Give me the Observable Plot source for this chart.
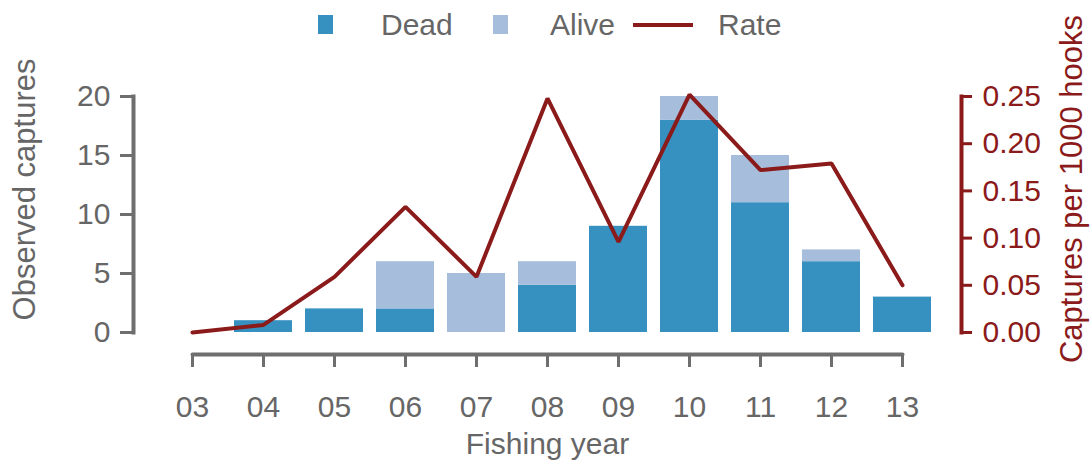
<!DOCTYPE html>
<html><head><meta charset="utf-8">
<script src="https://cdn.jsdelivr.net/npm/d3@7"></script>
<script src="https://cdn.jsdelivr.net/npm/@observablehq/plot@0.6"></script>
<style>
body{margin:0;background:#fff;font-family:"Liberation Sans",Arial,sans-serif;}
#wrap{position:relative;width:1092px;height:462px;}
#legend{position:absolute;left:0;top:0;height:50px;width:1092px;color:#666;font-size:30px;z-index:2;}
#legend .sw{position:absolute;top:15px;width:15px;height:19px;}
#legend .ln{position:absolute;top:23px;width:60px;height:4px;}
#legend .tx{position:absolute;top:0;line-height:50px;}
#chart{position:absolute;left:0;top:0;}
</style></head><body>
<div id="wrap">
<div id="chart"></div>
<div id="legend"></div>
</div>
<script>
// ---- data ----
const years = ["03","04","05","06","07","08","09","10","11","12","13"];
const dead  = [0, 1, 2, 2, 0, 4, 9, 18, 11, 6, 3];
const alive = [0, 0, 0, 4, 5, 2, 0, 2, 4, 1, 0];
const rate  = [0, 0.008, 0.059, 0.133, 0.059, 0.248, 0.096, 0.252, 0.172, 0.179, 0.05];
const statuses = ["Dead", "Alive"];
const statusColors = ["#3690c0", "#a6bddb"];
const rateLabel = "Rate";
const rateColor = "#8b1a1a";
const countTicks = [0, 5, 10, 15, 20];
const rateTicks = [0, 0.05, 0.10, 0.15, 0.20, 0.25];
const xLabel = "Fishing year";
const yLeftLabel = "Observed captures";
const yRightLabel = "Captures per 1000 hooks";

// ---- derived tables ----
const K = countTicks[countTicks.length - 1] / rateTicks[rateTicks.length - 1];
const bars = years.flatMap((y, i) => [
  {year: y, status: statuses[0], n: dead[i]},
  {year: y, status: statuses[1], n: alive[i]}
]);
const rateRows = years.map((y, i) => ({year: y, rate: rate[i]}));

const gray = "#666666";
const axisGray = "#6e6e6e";
const FS = 30;
const TFS = 31;

// ---- legend ----
const lg = document.getElementById("legend");
lg.innerHTML =
  `<div class="sw" style="left:318px;background:${statusColors[0]}"></div>` +
  `<div class="tx" style="left:381px">${statuses[0]}</div>` +
  `<div class="sw" style="left:493px;background:${statusColors[1]}"></div>` +
  `<div class="tx" style="left:550px">${statuses[1]}</div>` +
  `<div class="ln" style="left:633px;background:${rateColor}"></div>` +
  `<div class="tx" style="left:718px">${rateLabel}</div>`;

// ---- chart ----
const chart = Plot.plot({
  width: 1092,
  height: 462,
  marginLeft: 155.4,
  marginRight: 153.4,
  marginTop: 96,
  marginBottom: 130,
  style: {fontFamily: "'Liberation Sans', Arial, sans-serif", fontSize: FS + "px", background: "white"},
  x: {type: "band", domain: years, paddingInner: 0.18, paddingOuter: 0.09, axis: null},
  y: {domain: [countTicks[0], countTicks[countTicks.length - 1]], axis: null},
  color: {domain: statuses, range: statusColors},
  marks: [
    Plot.barY(bars, {x: "year", y: "n", fill: "status"}),
    Plot.line(rateRows, {x: "year", y: d => d.rate * K, stroke: rateColor, strokeWidth: 4, strokeLinejoin: "miter"}),
    // left axis
    Plot.frame({anchor: "left", dx: -22.4, stroke: axisGray, strokeWidth: 4}),
    Plot.axisY(countTicks, {anchor: "left", dx: -22.4, tickSize: 13, tickPadding: 10, fontSize: FS,
      stroke: axisGray, fill: gray, strokeWidth: 3, label: null}),
    // right axis
    Plot.frame({anchor: "right", dx: 22.4, stroke: rateColor, strokeWidth: 4}),
    Plot.axisY(rateTicks.map(r => r * K), {anchor: "right", dx: 22.4, tickSize: 10, tickPadding: 11, fontSize: FS,
      tickFormat: d => (d / K).toFixed(2), stroke: rateColor, fill: rateColor, strokeWidth: 3, label: null}),
    // bottom axis
    Plot.line([years[0], years[years.length - 1]], {x: d => d, y: () => 0, dy: 22, stroke: axisGray, strokeWidth: 4}),
    Plot.axisX(years, {anchor: "bottom", dy: 22, tickSize: 13, tickPadding: 28, fontSize: FS,
      stroke: axisGray, fill: gray, strokeWidth: 3, label: null}),
    // axis titles
    Plot.text([xLabel], {text: d => d, frameAnchor: "bottom", lineAnchor: "top", dy: 100, fill: gray, fontSize: FS}),
    Plot.text([yLeftLabel], {text: d => d, frameAnchor: "left", textAnchor: "middle", lineAnchor: "middle",
      rotate: -90, dx: -131, dy: -25, fill: gray, fontSize: TFS}),
    Plot.text([yRightLabel], {text: d => d, frameAnchor: "right", textAnchor: "middle", lineAnchor: "middle",
      rotate: -90, dx: 133, dy: -25.5, fill: rateColor, fontSize: TFS})
  ]
});
document.getElementById("chart").appendChild(chart);
</script>
</body></html>
